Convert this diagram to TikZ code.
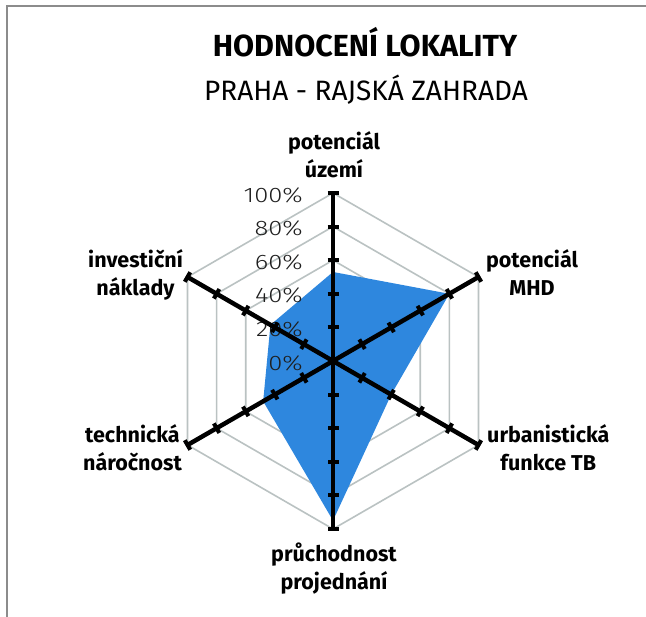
\documentclass[tikz,border=0pt]{standalone}
\usepackage{fontspec}
\setmainfont{Fira Sans}
\newfontfamily\firalight{Fira Sans Light}[FakeStretch=1.22]
\usetikzlibrary{calc}
\definecolor{radarblue}{RGB}{46,135,222}
\definecolor{gridgray}{RGB}{186,194,194}
\definecolor{framegray}{RGB}{140,140,140}
\definecolor{pcttext}{RGB}{30,30,30}
\tikzset{
  gridline/.style={draw=gridgray, line width=1.6pt},
  radaraxis/.style={draw=black, line width=4.5pt},
  axtick/.style={draw=black, line width=4pt},
  pctlabel/.style={font=\firalight\fontsize{21}{24}\selectfont, text=pcttext, inner sep=0pt, anchor=east},
  catlabel/.style={font=\bfseries\fontsize{21.5}{28}\selectfont, align=center, inner sep=0pt},
}
\begin{document}
\begin{tikzpicture}[x=1pt,y=-1pt]
\useasboundingbox (0,0) rectangle (646,617);
\draw[framegray, line width=2pt] (7,617) -- (7,6) -- (646,6);
\node[font=\bfseries\fontsize{30.5}{36}\selectfont, anchor=base] (title) at (365,57) {HODNOCENÍ LOKALITY};
\node[font=\fontsize{28}{34}\selectfont, anchor=base] (subtitle) at (366,101) {PRAHA - RAJSKÁ ZAHRADA};
\begin{scope}[shift={(333,361)}, x=1pt, y=1pt]
  \coordinate (O) at (0,0);
  \foreach \l in {0.2,0.4,0.6,0.8,1}
    \draw[gridline] (90:{168*\l}) -- (30:{168*\l}) -- (-30:{168*\l}) -- (-90:{168*\l}) -- (-150:{168*\l}) -- (150:{168*\l}) -- cycle;
  \fill[radarblue] (90:{168*0.53}) coordinate (d1) -- (30:{168*0.80}) coordinate (d2) -- (-30:{168*0.40}) coordinate (d3)
    -- (-90:{168*0.95}) coordinate (d4) -- (-150:{168*0.48}) coordinate (d5) -- (150:{168*0.43}) coordinate (d6) -- cycle;
  \foreach \p [count=\k from 0] in {0,20,40,60,80,100}
    \node[pctlabel] (p\p) at (-30,{168*\k/5-2}) {\p\%};
  \foreach \a [count=\i] in {90,30,-30,-90,-150,150} {
    \coordinate (A\i) at (\a:168);
    \draw[radaraxis] (O) -- (A\i);
    \foreach \t in {0.2,0.4,0.6,0.8,1}
      \draw[axtick] ($(\a:{168*\t})+(\a+90:5.5)$) -- ($(\a:{168*\t})+(\a-90:5.5)$);
  }
\end{scope}
\node[catlabel, anchor=north] (c1) at (334,131) {potenciál\\území};
\node[catlabel, anchor=north] (c2) at (532,249) {potenciál\\MHD};
\node[catlabel, anchor=north west] (c3) at (487,424) {urbanistická\\funkce TB};
\node[catlabel, anchor=north] (c4) at (334,543) {průchodnost\\projednání};
\node[catlabel, anchor=north east] (c5) at (182,424) {technická\\náročnost};
\node[catlabel, anchor=north east] (c6) at (183,249) {investiční\\náklady};
\end{tikzpicture}
\end{document}
